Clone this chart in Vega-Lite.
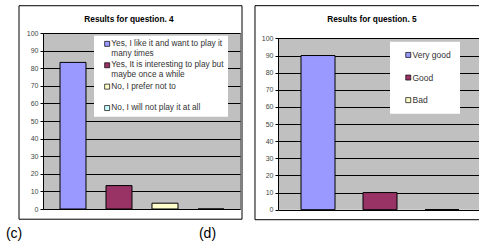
{
  "$schema": "https://vega.github.io/schema/vega-lite/v6.json",
  "padding": {"left": 5, "top": 4, "right": 0, "bottom": 0},
  "background": "#ffffff",
  "config": {
    "font": "Liberation Sans",
    "view": {"stroke": null},
    "axisY": {"title": null, "tickCount": 10, "grid": true, "gridColor": "#000", "gridOpacity": 1, "domainColor": "#000", "tickColor": "#000", "tickSize": 3, "labelPadding": 2, "labelFontSize": 7, "labelColor": "#444", "labelFont": "Liberation Sans", "labelOverlap": false}
  },
  "spacing": 10,
  "resolve": {"scale": {"color": "independent", "y": "independent", "x": "independent"}, "legend": {"color": "independent"}},
  "datasets": {
    "q4": [
      {"answer": "Yes, I like it and want to play it many times", "percent": 83.3},
      {"answer": "Yes, It is interesting to play but maybe once a while", "percent": 13.3},
      {"answer": "No, I prefer not to", "percent": 3.3},
      {"answer": "No, I will not play it at all", "percent": 0}
    ],
    "q5": [
      {"answer": "Very good", "percent": 90},
      {"answer": "Good", "percent": 10},
      {"answer": "Bad", "percent": 0}
    ]
  },
  "hconcat": [
    {
      "width": 197,
      "height": 176,
      "view": {"fill": "#c0c0c0", "stroke": "#808080"},
      "resolve": {"scale": {"x": "independent"}, "axis": {"x": "independent"}},
      "layer": [
        {
          "data": {"values": [{}]},
          "mark": {"type": "rect", "filled": false, "stroke": "#000", "strokeWidth": 1, "clip": false},
          "encoding": {
            "x": {"datum": -0.1218, "type": "quantitative", "scale": {"domain": [0, 1]}, "axis": null},
            "x2": {"datum": 1.0102},
            "y": {"datum": 115.5, "type": "quantitative", "scale": {"domain": [0, 100], "nice": false}},
            "y2": {"datum": -5.8}
          }
        },
        {
          "data": {"name": "q4"},
          "mark": {"type": "bar", "stroke": "#000", "strokeWidth": 1},
          "encoding": {
            "x": {"field": "answer", "type": "nominal", "sort": null, "scale": {"paddingInner": 0.435, "paddingOuter": 0.359, "align": 0.515}, "axis": null},
            "y": {"field": "percent", "type": "quantitative", "scale": {"domain": [0, 100], "nice": false}},
            "color": {"field": "answer", "type": "nominal", "sort": null,
              "scale": {"domain": ["Yes, I like it and want to play it many times", "Yes, It is interesting to play but maybe once a while", "No, I prefer not to", "No, I will not play it at all"], "range": ["#9999ff", "#993366", "#ffffcc", "#ccffff"]},
              "legend": {"title": null, "orient": "none", "legendX": 51, "legendY": 2.7, "fillColor": "#ffffff", "padding": 4, "symbolOffset": 5, "symbolType": "square", "symbolSize": 25, "symbolStrokeColor": "#000", "symbolStrokeWidth": 0.7, "labelFont": "Liberation Sans", "labelFontSize": 8.3, "labelColor": "#333", "labelOffset": 0, "rowPadding": 2.4, "gridAlign": "all", "labelLimit": 300,
                "encode": {"labels": {"update": {"lineHeight": {"value": 10}}}},
                "labelExpr": "datum.label == 'Yes, I like it and want to play it many times' ? ['Yes, I like it and want to play it', 'many times'] : datum.label == 'Yes, It is interesting to play but maybe once a while' ? ['Yes, It is interesting to play but', 'maybe once a while'] : datum.label"}}
          }
        },
        {
          "data": {"values": [{}]},
          "mark": {"type": "text", "text": "Results for question. 4", "fontSize": 8.3, "fontWeight": "bold", "color": "#000", "font": "Liberation Sans"},
          "encoding": {
            "x": {"datum": 0.4365, "type": "quantitative", "scale": {"domain": [0, 1]}, "axis": null},
            "y": {"datum": 107.3, "type": "quantitative", "scale": {"domain": [0, 100], "nice": false}}
          }
        },
        {
          "data": {"values": [{}]},
          "mark": {"type": "text", "text": "(c)", "fontSize": 14, "color": "#000", "font": "Liberation Sans"},
          "encoding": {
            "x": {"datum": -0.147, "type": "quantitative", "scale": {"domain": [0, 1]}, "axis": null},
            "y": {"datum": -14, "type": "quantitative", "scale": {"domain": [0, 100], "nice": false}}
          }
        },
        {
          "data": {"values": [{}]},
          "mark": {"type": "text", "text": "(d)", "fontSize": 14, "color": "#000", "font": "Liberation Sans"},
          "encoding": {
            "x": {"datum": 0.835, "type": "quantitative", "scale": {"domain": [0, 1]}, "axis": null},
            "y": {"datum": -14, "type": "quantitative", "scale": {"domain": [0, 100], "nice": false}}
          }
        }
      ]
    },
    {
      "width": 202,
      "height": 176.7,
      "view": {"fill": "#c0c0c0", "stroke": null},
      "resolve": {"scale": {"x": "independent"}, "axis": {"x": "independent"}},
      "layer": [
        {
          "data": {"values": [{}]},
          "mark": {"type": "rect", "filled": false, "stroke": "#000", "strokeWidth": 1, "clip": false},
          "encoding": {
            "x": {"datum": -0.1139, "type": "quantitative", "scale": {"domain": [0, 1]}, "axis": null},
            "x2": {"datum": 1.0099},
            "y": {"datum": 119.1, "type": "quantitative", "scale": {"domain": [0, 103.15], "nice": false}},
            "y2": {"datum": -5.84}
          }
        },
        {
          "data": {"name": "q5"},
          "mark": {"type": "bar", "stroke": "#000", "strokeWidth": 1},
          "encoding": {
            "x": {"field": "answer", "type": "nominal", "sort": null, "scale": {"paddingInner": 0.4516, "paddingOuter": 0.3548, "align": 0.523}, "axis": null},
            "y": {"field": "percent", "type": "quantitative", "scale": {"domain": [0, 103.15], "nice": false}},
            "color": {"field": "answer", "type": "nominal", "sort": null,
              "scale": {"domain": ["Very good", "Good", "Bad"], "range": ["#9999ff", "#993366", "#ffffcc"]},
              "legend": {"title": null, "orient": "none", "legendX": 112, "legendY": 8.7, "fillColor": "#ffffff", "padding": 9, "symbolOffset": 5, "symbolType": "square", "symbolSize": 25, "symbolStrokeColor": "#000", "symbolStrokeWidth": 0.7, "labelFont": "Liberation Sans", "labelFontSize": 8.5, "labelColor": "#333", "labelOffset": 0, "rowPadding": 13.6, "labelLimit": 300}}
          }
        },
        {
          "data": {"values": [{}]},
          "mark": {"type": "rect", "color": "#ffffff", "clip": false},
          "encoding": {
            "x": {"datum": -0.006, "type": "quantitative", "scale": {"domain": [0, 1]}, "axis": null},
            "x2": {"datum": 1.005},
            "y": {"datum": 100.3, "type": "quantitative", "scale": {"domain": [0, 103.15], "nice": false}},
            "y2": {"datum": 103.2}
          }
        },
        {
          "data": {"values": [{}]},
          "mark": {"type": "text", "text": "Results for question. 5", "fontSize": 8.3, "fontWeight": "bold", "color": "#000", "font": "Liberation Sans"},
          "encoding": {
            "x": {"datum": 0.465, "type": "quantitative", "scale": {"domain": [0, 1]}, "axis": null},
            "y": {"datum": 110.6, "type": "quantitative", "scale": {"domain": [0, 103.15], "nice": false}}
          }
        }
      ]
    }
  ]
}
